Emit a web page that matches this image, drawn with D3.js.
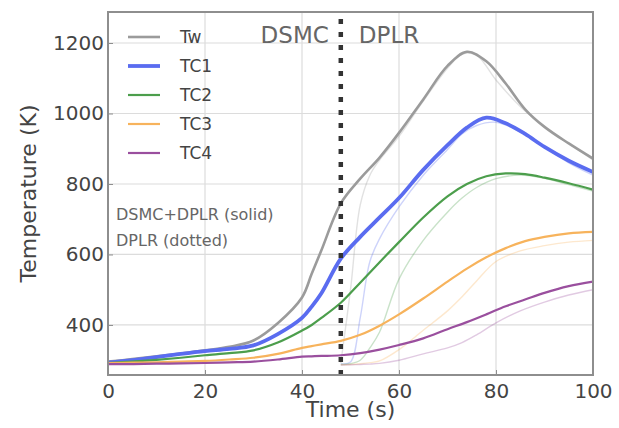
<!DOCTYPE html>
<html lang="en">
<head>
    <meta charset="UTF-8">
    <script src="https://d3js.org/d3.v7.min.js"></script>
    <title>Temperature history</title>
    <style>
        html, body {
            margin: 0px;
            padding: 0px;
            background-color: #ffffff;
            font-family: "DejaVu Sans", sans-serif;
        }
    </style>
</head>
<body>
    <div id="chart"></div>
    <script>
        // solid: DSMC+DPLR
        const time = [0, 5, 10, 15, 20, 25, 30, 35, 40, 42, 44, 48, 52, 56, 60, 65, 70, 74, 78, 82, 86, 90, 95, 100];
        const tw  = [296, 303, 311, 319, 328, 338, 356, 405, 478, 545, 612, 745, 815, 875, 945, 1040, 1135, 1175, 1148, 1085, 1012, 962, 915, 872];
        const tc1 = [293, 300, 309, 318, 326, 332, 342, 374, 420, 452, 490, 588, 650, 705, 760, 840, 910, 960, 988, 972, 942, 905, 866, 834];
        const tc2 = [292, 296, 301, 307, 314, 320, 328, 350, 384, 400, 420, 463, 520, 578, 635, 705, 765, 800, 822, 830, 828, 818, 802, 784];
        const tc3 = [292, 293, 294, 296, 298, 302, 307, 318, 335, 340, 345, 355, 372, 398, 430, 475, 523, 560, 592, 618, 638, 650, 660, 664];
        const tc4 = [289, 289, 290, 291, 292, 294, 296, 302, 310, 311, 312, 314, 320, 330, 343, 362, 388, 408, 430, 453, 472, 491, 510, 523];

        // dotted: DPLR only, starting at the switch time
        const timeD = [48, 50, 52, 54, 56, 60, 65, 70, 73, 76, 80, 85, 90, 95, 100];
        const twD  = [292, 500, 740, 825, 868, 935, 1035, 1128, 1168, 1165, 1095, 1020, 962, 915, 868];
        const tc1D = [290, 295, 420, 580, 645, 735, 825, 898, 942, 966, 975, 948, 905, 860, 825];
        const tc2D = [288, 290, 300, 335, 380, 530, 640, 720, 760, 790, 815, 825, 816, 798, 780];
        const tc3D = [287, 288, 290, 293, 298, 330, 385, 440, 480, 525, 580, 610, 625, 635, 640];
        const tc4D = [286, 287, 288, 289, 291, 300, 318, 335, 350, 372, 406, 440, 465, 485, 500];

        const names = ["Tw", "TC1", "TC2", "TC3", "TC4"];
        const colors = ["#9b9b9b", "#5a6cf0", "#4c9e4c", "#f7b35c", "#9a4f9e"];
        const widths = [2.6, 3.8, 2.2, 2.2, 2.2];
        const solid = [tw, tc1, tc2, tc3, tc4];
        const dotted = [twD, tc1D, tc2D, tc3D, tc4D];

        const xTicks = [0, 20, 40, 60, 80, 100];
        const yTicks = [400, 600, 800, 1000, 1200];
        const switchTime = 48;

        let width = 619, height = 428;
        let margin = { top: 12, right: 26, bottom: 53, left: 108 };

        let svg = d3.select('#chart').append('svg').attr('width', width).attr('height', height);

        let x = d3.scaleLinear().domain([0, 100]).range([margin.left, width - margin.right]);
        let y = d3.scaleLinear().domain([258, 1288]).range([height - margin.bottom, margin.top]);

        // grid
        svg.append('g').selectAll('line.gx')
            .data(xTicks.slice(1, -1))
            .join('line')
            .attr('x1', d => x(d)).attr('x2', d => x(d))
            .attr('y1', y.range()[0]).attr('y2', y.range()[1])
            .attr('stroke', '#dcdcdc').attr('stroke-width', 1.2);
        svg.append('g').selectAll('line.gy')
            .data(yTicks)
            .join('line')
            .attr('x1', x.range()[0]).attr('x2', x.range()[1])
            .attr('y1', d => y(d)).attr('y2', d => y(d))
            .attr('stroke', '#dcdcdc').attr('stroke-width', 1.2);

        let line = d3.line()
            .x(d => x(d[0]))
            .y(d => y(d[1]))
            .curve(d3.curveCatmullRom.alpha(0.5));

        svg.append('clipPath').attr('id', 'plotclip')
            .append('rect')
            .attr('x', x.range()[0]).attr('y', y.range()[1])
            .attr('width', x.range()[1] - x.range()[0])
            .attr('height', y.range()[0] - y.range()[1]);

        let plot = svg.append('g').attr('clip-path', 'url(#plotclip)');

        // faint DPLR lines
        dotted.forEach((vals, i) => {
            plot.append('path')
                .datum(timeD.map((t, j) => [t, vals[j]]))
                .attr('d', line)
                .attr('fill', 'none')
                .attr('stroke', colors[i])
                .attr('stroke-opacity', 0.3)
                .attr('stroke-width', 1.4);
        });

        // solid DSMC+DPLR lines
        solid.forEach((vals, i) => {
            plot.append('path')
                .datum(time.map((t, j) => [t, vals[j]]))
                .attr('d', line)
                .attr('fill', 'none')
                .attr('stroke', colors[i])
                .attr('stroke-width', widths[i]);
        });

        // switch line
        svg.append('line')
            .attr('x1', x(switchTime)).attr('x2', x(switchTime))
            .attr('y1', y.range()[0]).attr('y2', y.range()[1])
            .attr('stroke', '#333')
            .attr('stroke-width', 4.5)
            .attr('stroke-dasharray', '5,8');

        // frame
        svg.append('rect')
            .attr('x', x.range()[0]).attr('y', y.range()[1])
            .attr('width', x.range()[1] - x.range()[0])
            .attr('height', y.range()[0] - y.range()[1])
            .attr('fill', 'none')
            .attr('stroke', '#8e8e8e')
            .attr('stroke-width', 2);

        // axes
        let xAxis = svg.append('g')
            .attr('transform', `translate(0,${y.range()[0]})`)
            .call(d3.axisBottom(x).tickValues(xTicks).tickSize(-5).tickPadding(8));
        let yAxis = svg.append('g')
            .attr('transform', `translate(${x.range()[0]},0)`)
            .call(d3.axisLeft(y).tickValues(yTicks).tickFormat(d3.format('d')).tickSize(-5).tickPadding(4));
        [xAxis, yAxis].forEach(a => {
            a.select('.domain').remove();
            a.selectAll('line').attr('stroke', '#8e8e8e').attr('stroke-width', 1);
            a.selectAll('text')
                .attr('fill', '#444')
                .style('font-family', '"DejaVu Sans", sans-serif')
                .style('font-size', '20px');
        });
        xAxis.selectAll('text').attr('dy', '0.75em');

        svg.append('text')
            .attr('x', (x.range()[0] + x.range()[1]) / 2)
            .attr('y', 417)
            .attr('text-anchor', 'middle')
            .attr('fill', '#444')
            .style('font-size', '22px')
            .text('Time (s)');

        svg.append('text')
            .attr('transform', `translate(36,${(y.range()[0] + y.range()[1]) / 2}) rotate(-90)`)
            .attr('text-anchor', 'middle')
            .attr('fill', '#444')
            .style('font-size', '22px')
            .text('Temperature (K)');

        // region labels
        svg.append('text')
            .attr('x', x(switchTime) - 12).attr('y', 43)
            .attr('text-anchor', 'end')
            .attr('fill', '#666')
            .style('font-size', '23px')
            .text('DSMC');
        svg.append('text')
            .attr('x', x(switchTime) + 18).attr('y', 43)
            .attr('fill', '#666')
            .style('font-size', '23px')
            .text('DPLR');

        // legend
        let legend = svg.append('g');
        names.forEach((n, i) => {
            let ly = 37 + i * 29;
            legend.append('line')
                .attr('x1', 128).attr('x2', 160)
                .attr('y1', ly).attr('y2', ly)
                .attr('stroke', colors[i])
                .attr('stroke-width', widths[i]);
            legend.append('text')
                .attr('x', 180).attr('y', ly + 6)
                .attr('fill', '#444')
                .style('font-size', '17px')
                .text(n);
        });

        svg.append('text')
            .attr('x', 116).attr('y', 220)
            .attr('fill', '#666')
            .style('font-size', '16px')
            .text('DSMC+DPLR (solid)');
        svg.append('text')
            .attr('x', 116).attr('y', 246)
            .attr('fill', '#666')
            .style('font-size', '16px')
            .text('DPLR (dotted)');
    </script>
</body>
</html>
